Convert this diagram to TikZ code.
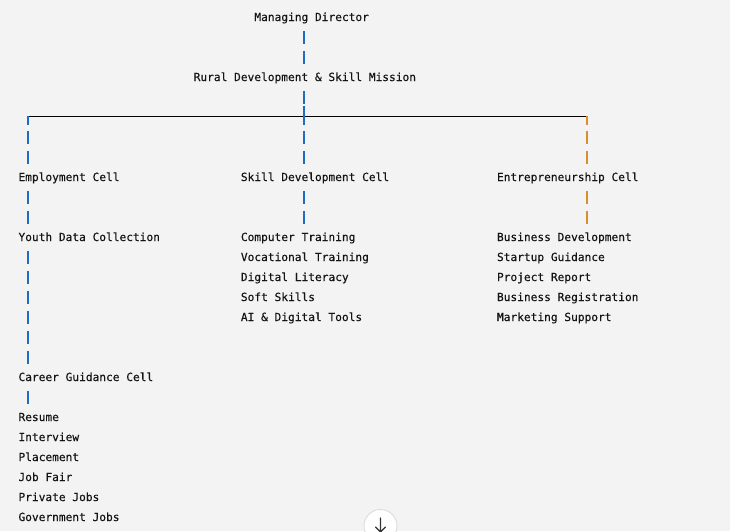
\documentclass[tikz,border=0pt]{standalone}
\usepackage{fontspec}
\setmonofont[FakeBold=0.3]{DejaVu Sans Mono}
\definecolor{bgc}{HTML}{F3F3F3}
\definecolor{txt}{HTML}{141414}
\definecolor{barblue}{HTML}{1D6BC4}
\definecolor{barorange}{HTML}{D8902E}
\begin{document}
\begin{tikzpicture}[x=1pt,y=-1pt,
  lbl/.style={anchor=base west, inner sep=0pt, text height=8pt, text depth=2pt,
    font=\fontsize{11.19pt}{13pt}\ttfamily, text=txt},
  vbar/.style={line width=1.2pt, draw=barblue, dash pattern=on 13pt off 7pt,
    shorten <=8pt, shorten >=9pt},
  vtop/.style={line width=1.2pt, draw=barblue, dash pattern=on 13pt off 2pt on 20pt,
    shorten <=8pt},
  vdown/.style={line width=1.2pt, draw=barblue,
    dash pattern=on 9pt off 6pt on 13pt off 7pt on 13pt off 20pt, shorten >=9pt},
  hl/.style={line width=1pt, draw=black}
]
\fill[bgc] (0,0) rectangle (730,531);
\useasboundingbox (0,0) rectangle (730,531);

\coordinate (cL) at (28,0);
\coordinate (cM) at (304,0);
\coordinate (cR) at (587,0);
\coordinate (jL) at (28,116);
\coordinate (jM) at (304,116);
\coordinate (jR) at (587,116);

% text nodes (x = 18.3 + col*6.74, baseline = line centre + 4)
\node[lbl] (md)    at (254.2,21)  {Managing Director};
\node[lbl] (rural) at (193.5,81)  {Rural Development \& Skill Mission};
\node[lbl] (emp)   at (18.3,181)  {Employment Cell};
\node[lbl] (skill) at (240.7,181) {Skill Development Cell};
\node[lbl] (ent)   at (496.8,181) {Entrepreneurship Cell};

\node[lbl] (youth) at (18.3,241)  {Youth Data Collection};
\node[lbl] (career) at (18.3,381) {Career Guidance Cell};
\node[lbl] (resume) at (18.3,421) {Resume};
\node[lbl] (interview) at (18.3,441) {Interview};
\node[lbl] (placement) at (18.3,461) {Placement};
\node[lbl] (jobfair) at (18.3,481) {Job Fair};
\node[lbl] (private) at (18.3,501) {Private Jobs};
\node[lbl] (govt) at (18.3,521) {Government Jobs};

\node[lbl] (comp) at (240.7,241) {Computer Training};
\node[lbl] (voc)  at (240.7,261) {Vocational Training};
\node[lbl] (dig)  at (240.7,281) {Digital Literacy};
\node[lbl] (soft) at (240.7,301) {Soft Skills};
\node[lbl] (ai)   at (240.7,321) {AI \& Digital Tools};

\node[lbl] (bdev) at (496.8,241) {Business Development};
\node[lbl] (start) at (496.8,261) {Startup Guidance};
\node[lbl] (proj) at (496.8,281) {Project Report};
\node[lbl] (breg) at (496.8,301) {Business Registration};
\node[lbl] (mkt)  at (496.8,321) {Marketing Support};

% connectors
\draw[vbar] (md.south -| cM) -- (rural.north -| cM);
\draw[vtop] (rural.south -| cM) -- (jM);
\draw[hl] (jL) -- (jR);
\draw[vdown] (jL) -- (emp.north -| cL);
\draw[vdown] (jM) -- (skill.north -| cM);
\draw[vdown, draw=barorange] (jR) -- (ent.north -| cR);

\draw[vbar] (emp.south -| cL) -- (youth.north -| cL);
\draw[vbar] (skill.south -| cM) -- (comp.north -| cM);
\draw[vbar, draw=barorange] (ent.south -| cR) -- (bdev.north -| cR);
\draw[vbar] (youth.south -| cL) -- (career.north -| cL);
\draw[vbar] (career.south -| cL) -- (resume.north -| cL);

% scroll-down button
\begin{scope}
\clip (0,0) rectangle (730,531);
\node[circle, minimum size=33pt, inner sep=0pt, fill=white, draw=black!15, line width=0.8pt] (btn) at (380.5,526) {};
\draw[line width=1.2pt, draw=black!80, line cap=round, line join=round]
  (btn.center) ++(0,-8) -- ++(0,14)
  (btn.center) ++(-5,1) -- ++(5,5) -- ++(5,-5);
\end{scope}
\end{tikzpicture}
\end{document}
